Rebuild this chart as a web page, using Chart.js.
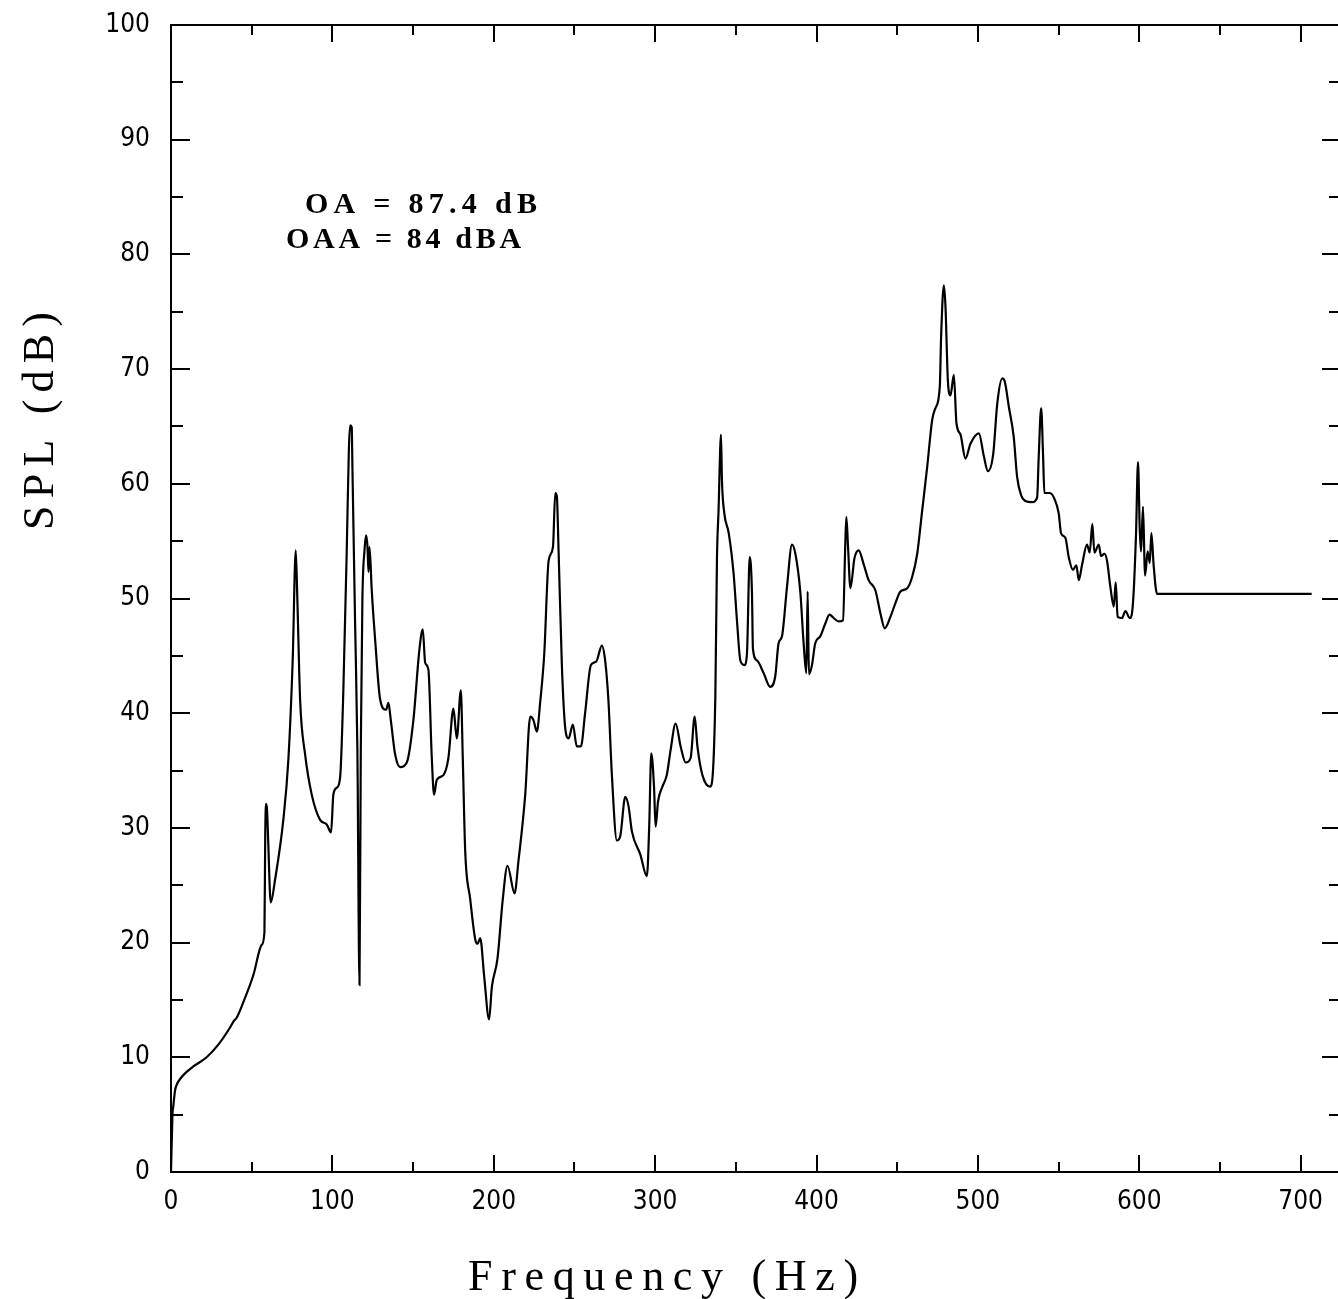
<!DOCTYPE html>
<html>
<head>
<meta charset="utf-8">
<title>SPL spectrum</title>
<script src="https://cdn.jsdelivr.net/npm/chart.js@4.4.1/dist/chart.umd.min.js"></script>
<style>
  html, body { margin: 0; padding: 0; background: #fff; overflow: hidden; }
  #wrap { position: relative; width: 1345px; height: 1299px; }
</style>
</head>
<body>
<div id="wrap"><canvas id="spl" width="1345" height="1299"></canvas></div>
<script>
// Narrow-band sound pressure level spectrum
const freqHz = [
  0, 0.9, 1.4, 2.5, 3.5, 5.6, 8.7, 13.8, 22.1, 29.3, 36.6, 39.1, 40.5, 44.8, 51.1, 56.2, 57.9,
  58.4, 58.9, 59.5, 60.1, 61.8, 64.5, 69.6, 72.7, 75.4, 77.3, 78.3, 80.0, 83.1, 87.2, 92.4, 96.5, 99.2,
  100.6, 102.7, 104.8, 106.8, 108.9, 110.2, 111.0, 112.0, 112.4, 114.1, 115.5, 116.8, 117.6, 118.6,
  119.9, 120.9, 121.7, 122.4, 123.0, 124.4, 126.5, 129.6, 133.3, 134.7, 136.2, 138.9, 142.0, 146.1,
  150.2, 153.9, 156.0, 157.5, 159.5, 161.6, 163.0, 164.7, 168.8, 171.9, 175.0, 177.1, 179.6, 180.8,
  182.3, 185.4, 188.5, 190.0, 191.6, 194.1, 197.1, 198.8, 202.3, 205.6, 208.5, 212.9, 215.3, 219.5,
  222.6, 224.6, 226.7, 228.8, 231.3, 234.0, 236.7, 238.1, 239.1, 240.2, 242.2, 244.3, 246.4, 249.0,
  251.5, 254.0, 256.6, 260.2, 263.5, 267.0, 269.1, 271.1, 273.2, 276.3, 278.4, 281.5, 283.5, 285.6,
  290.8, 294.9, 296.3, 297.6, 299.3, 300.3, 301.8, 304.5, 307.2, 309.6, 312.7, 315.8, 318.9, 322.0,
  324.5, 326.2, 329.3, 334.0, 337.3, 338.3, 339.3, 340.8, 341.4, 342.9, 345.6, 348.6, 350.7, 352.8,
  355.3, 356.9, 358.6, 360.0, 360.6, 363.1, 367.2, 371.3, 374.4, 376.5, 378.6, 381.7, 384.8, 386.9,
  390.0, 392.0, 393.7, 394.5, 395.3, 397.2, 399.2, 402.3, 405.4, 408.1, 410.6, 413.7, 416.4, 417.9,
  418.5, 419.5, 421.0, 423.5, 426.1, 429.2, 432.3, 436.5, 439.6, 442.3, 445.8, 448.9, 452.0, 456.2,
  459.3, 462.4, 465.5, 468.6, 471.7, 473.7, 476.4, 477.2, 478.9, 479.9, 481.4, 483.0, 485.1, 486.7,
  489.2, 492.3, 495.4, 500.6, 503.7, 506.2, 509.5, 512.0, 515.1, 516.5, 519.2, 522.2, 524.3, 526.8,
  529.4, 533.6, 536.7, 537.7, 539.2, 540.4, 541.2, 544.5, 547.4, 550.1, 551.5, 554.2, 556.3, 558.9,
  561.0, 562.5, 564.5, 567.6, 569.3, 570.9, 572.2, 574.9, 576.3, 578.4, 580.0, 582.1, 584.2, 585.4,
  586.6, 589.3, 591.4, 594.1, 596.1, 598.0, 599.2, 600.3, 601.1, 602.3, 603.6, 605.2, 606.5, 607.5,
  608.9, 611.0, 706.8
];
const splDb = [
  0, 5.0, 5.7, 7.1, 7.6, 8.1, 8.6, 9.2, 10.0, 11.1, 12.6, 13.2, 13.4, 14.8, 17.2, 19.8, 20.9,
  29.5, 32.1, 31.6, 29.4, 23.5, 25.5, 30.7, 35.9, 44.6, 54.2, 49.9, 41.2, 36.4, 32.9, 30.7, 30.3, 29.6,
  32.9, 33.5, 34.4, 42.0, 54.2, 62.9, 65.1, 64.9, 61.6, 47.7, 36.8, 16.3, 36.8, 49.9,
  54.2, 55.5, 54.6, 52.3, 54.5, 50.7, 46.4, 41.2, 40.3, 40.9, 39.4, 36.4, 35.3, 35.7,
  39.4, 45.5, 47.3, 44.4, 43.8, 36.1, 32.9, 34.2, 34.6, 36.1, 40.4, 37.8, 42.0, 36.1,
  28.0, 23.8, 20.3, 19.9, 20.4, 17.0, 13.3, 16.1, 18.6, 23.8, 26.7, 24.3, 27.1, 32.9,
  39.7, 39.4, 38.4, 41.0, 45.2, 53.3, 54.5, 59.2, 58.9, 54.0, 44.2, 38.7, 37.8, 39.0,
  37.1, 37.1, 40.0, 44.2, 44.5, 45.9, 44.5, 41.0, 34.6, 28.9, 29.3, 32.7, 31.9, 29.7,
  27.7, 25.8, 30.0, 36.5, 33.6, 30.1, 32.3, 33.6, 34.6, 36.8, 39.1, 37.1, 35.7, 36.1,
  39.7, 37.1, 34.6, 33.6, 41.4, 53.4, 57.7, 64.3, 60.3, 57.4, 55.7, 52.2, 48.1, 44.6,
  44.2, 45.2, 53.6, 50.5, 45.6, 44.6, 43.5, 42.3, 43.2, 46.1, 46.7, 51.0, 54.7, 53.9,
  50.5, 46.1, 43.5, 50.6, 43.4, 44.2, 46.1, 46.7, 47.8, 48.6, 48.3, 48.0, 48.1, 55.1,
  57.1, 54.6, 50.9, 53.5, 54.2, 53.0, 51.6, 50.7, 48.7, 47.4, 48.4, 49.6, 50.6, 50.9,
  51.9, 53.9, 57.7, 61.5, 65.6, 66.6, 68.5, 72.8, 77.3, 75.5, 69.0, 67.7, 69.5, 65.3,
  64.3, 62.2, 63.5, 64.4, 62.4, 61.1, 62.6, 67.0, 69.2, 69.0, 66.7, 64.1, 60.6, 59.0,
  58.5, 58.4, 58.8, 62.4, 66.6, 62.4, 59.2, 59.2, 58.7, 57.4, 55.7, 55.3, 53.6, 52.5,
  52.9, 51.6, 52.9, 54.7, 54.0, 56.5, 54.0, 54.7, 53.7, 53.9, 53.3, 51.0, 49.3, 51.4,
  48.4, 48.3, 48.9, 48.3, 49.6, 55.7, 61.9, 56.0, 54.1, 58.0, 52.0, 54.1, 53.1, 55.7,
  52.9, 50.4, 50.4
];

// Tick positions and labels
const xMajorTicks = [0, 100, 200, 300, 400, 500, 600, 700];
const xMinorTicks = [50, 150, 250, 350, 450, 550, 650];
const xTickLabels = ['0', '100', '200', '300', '400', '500', '600', '700'];
const yMajorTicks = [0, 10, 20, 30, 40, 50, 60, 70, 80, 90, 100];
const yMinorTicks = [5, 15, 25, 35, 45, 55, 65, 75, 85, 95];
const yTickLabels = ['0', '10', '20', '30', '40', '50', '60', '70', '80', '90', '100'];

// Text drawn on the plot
const xTitle = 'Frequency (Hz)';
const yTitle = 'SPL (dB)';
const overallLines = ['OA = 87.4 dB', 'OAA = 84 dBA'];

const INK = '#000';
const X_RANGE = [0, 725];
const Y_RANGE = [0, 100];
const TICK_FONT = { family: "'DejaVu Sans Condensed', 'DejaVu Sans', sans-serif", size: 26 };

function makeAxis(opts) {
  const horizontal = opts.position === 'top' || opts.position === 'bottom';
  const range = horizontal ? X_RANGE : Y_RANGE;
  const labels = opts.labels || null;
  return {
    type: 'linear',
    axis: horizontal ? 'x' : 'y',
    position: opts.position,
    min: range[0],
    max: range[1],
    weight: opts.weight,
    grid: {
      display: true,
      drawOnChartArea: false,
      drawTicks: true,
      tickLength: -opts.tickLength,   // ticks point into the plot frame
      color: INK,
      lineWidth: 2
    },
    border: { display: opts.border, color: INK, width: 2 },
    ticks: {
      display: !!labels,
      autoSkip: false,
      maxRotation: 0,
      color: INK,
      font: TICK_FONT,
      padding: opts.padding || 0,
      callback: (value) => {
        if (!labels) return '';
        const i = opts.ticks.indexOf(value);
        return i >= 0 ? labels[i] : '';
      }
    },
    afterBuildTicks: (scale) => {
      scale.ticks = opts.ticks.map(v => ({ value: v }));
    },
    afterFit: (scale) => {
      if (horizontal) scale.height = opts.size; else scale.width = opts.size;
      // labels may overhang the frame; the frame itself stays put
      scale.paddingTop = 0;
      scale.paddingBottom = 0;
      scale.paddingLeft = 0;
      scale.paddingRight = 0;
    }
  };
}

const plotTextPlugin = {
  id: 'plotText',
  afterDraw(chart) {
    const ctx = chart.ctx;
    const xs = chart.scales.x;
    const ys = chart.scales.y;

    function spaced(text, x, y, width, centered) {
      ctx.letterSpacing = '0px';
      const w0 = ctx.measureText(text).width;
      const gap = (width - w0) / Math.max(1, text.length - 1);
      ctx.letterSpacing = gap.toFixed(2) + 'px';
      ctx.textAlign = 'left';
      ctx.fillText(text, centered ? x - width / 2 : x, y);
      ctx.letterSpacing = '0px';
    }

    ctx.save();
    ctx.fillStyle = INK;
    ctx.textBaseline = 'alphabetic';

    // Axis titles
    ctx.font = "44px 'Liberation Serif', 'DejaVu Serif', serif";
    spaced(xTitle, 663, 1290, 390, true);
    ctx.save();
    ctx.translate(53, 421);
    ctx.rotate(-Math.PI / 2);
    spaced(yTitle, 0, 0, 218, true);
    ctx.restore();

    // Overall level annotation
    ctx.font = "bold 30px 'Liberation Serif', 'DejaVu Serif', serif";
    spaced(overallLines[0], xs.getPixelForValue(83.0), ys.getPixelForValue(83.6), 232, false);
    spaced(overallLines[1], xs.getPixelForValue(71.3), ys.getPixelForValue(80.6), 235, false);
    ctx.restore();
  }
};

new Chart(document.getElementById('spl'), {
  type: 'line',
  data: {
    datasets: [{
      data: freqHz.map((f, i) => ({ x: f, y: splDb[i] })),
      borderColor: INK,
      borderWidth: 2.2,
      pointRadius: 0,
      cubicInterpolationMode: 'monotone',
      fill: false
    }]
  },
  options: {
    responsive: false,
    animation: false,
    devicePixelRatio: 1,
    layout: { padding: { left: 0, right: 4, top: 25, bottom: 0 } },
    plugins: { legend: { display: false }, tooltip: { enabled: false } },
    scales: {
      x: makeAxis({ position: 'bottom', ticks: xMajorTicks, labels: xTickLabels, tickLength: 17, border: true, weight: 1, size: 127, padding: 32 }),
      xMinor: makeAxis({ position: 'bottom', ticks: xMinorTicks, tickLength: 10, border: false, weight: 0, size: 0 }),
      xTop: makeAxis({ position: 'top', ticks: xMajorTicks, tickLength: 17, border: true, weight: 1, size: 0 }),
      xTopMinor: makeAxis({ position: 'top', ticks: xMinorTicks, tickLength: 10, border: false, weight: 0, size: 0 }),
      y: makeAxis({ position: 'left', ticks: yMajorTicks, labels: yTickLabels, tickLength: 19, border: true, weight: 1, size: 171, padding: 40 }),
      yMinor: makeAxis({ position: 'left', ticks: yMinorTicks, tickLength: 12, border: false, weight: 0, size: 0 }),
      yRight: makeAxis({ position: 'right', ticks: yMajorTicks, tickLength: 19, border: true, weight: 1, size: 0 }),
      yRightMinor: makeAxis({ position: 'right', ticks: yMinorTicks, tickLength: 12, border: false, weight: 0, size: 0 })
    }
  },
  plugins: [plotTextPlugin]
});
</script>
</body>
</html>
